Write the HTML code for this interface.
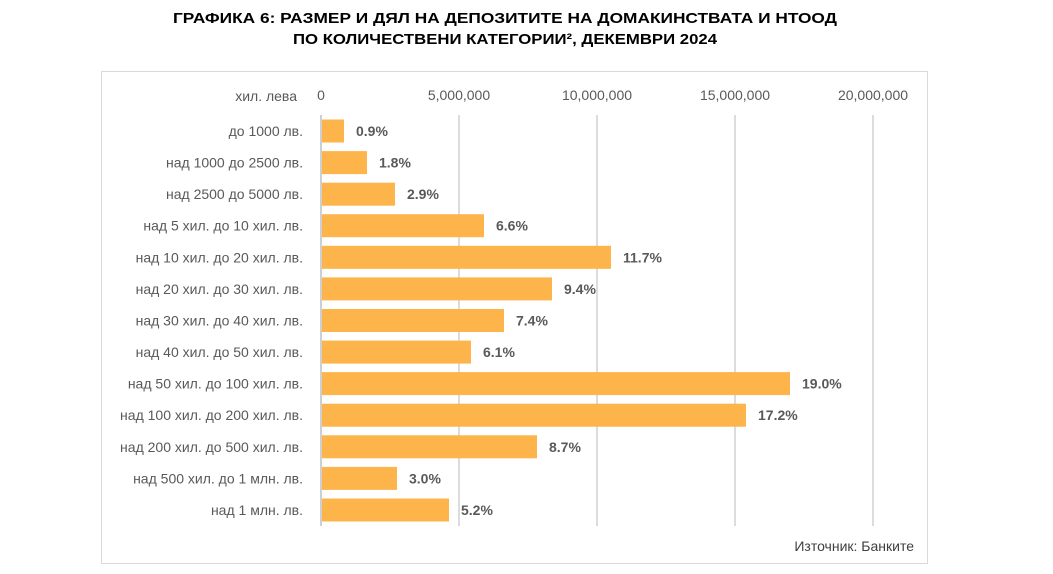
<!DOCTYPE html>
<html><head><meta charset="utf-8"><style>
html,body{margin:0;padding:0;background:#fff;}
svg{display:block;}
</style></head><body>
<svg width="1053" height="574" xmlns="http://www.w3.org/2000/svg" font-family="Liberation Sans, Arial, sans-serif">
<text x="505" y="23" text-anchor="middle" font-size="15" font-weight="bold" fill="#000" textLength="664" lengthAdjust="spacingAndGlyphs">ГРАФИКА 6: РАЗМЕР И ДЯЛ НА ДЕПОЗИТИТЕ НА ДОМАКИНСТВАТА И НТООД</text>
<text x="505" y="44" text-anchor="middle" font-size="15" font-weight="bold" fill="#000" textLength="424" lengthAdjust="spacingAndGlyphs">ПО КОЛИЧЕСТВЕНИ КАТЕГОРИИ², ДЕКЕМВРИ 2024</text>
<rect x="101.5" y="71.5" width="826" height="492" fill="#fff" stroke="#d9d9d9" stroke-width="1"/>
<g stroke="#d0d0d0" stroke-width="1.5">
<line x1="459" y1="115" x2="459" y2="526"/><line x1="597" y1="115" x2="597" y2="526"/>
<line x1="735" y1="115" x2="735" y2="526"/><line x1="873" y1="115" x2="873" y2="526"/>
</g>
<line x1="321" y1="115" x2="321" y2="526" stroke="#bfbfbf" stroke-width="1.5"/>
<g font-size="14" fill="#595959">
<text x="297" y="101" text-anchor="end">хил. лева</text>
<text x="321" y="100" text-anchor="middle">0</text>
<text x="459" y="100" text-anchor="middle">5,000,000</text>
<text x="597" y="100" text-anchor="middle">10,000,000</text>
<text x="735" y="100" text-anchor="middle">15,000,000</text>
<text x="873" y="100" text-anchor="middle">20,000,000</text>
</g>
<g fill="#fdb44b">
<rect x="322" y="119.5" width="22" height="23"/>
<rect x="322" y="151.1" width="45" height="23"/>
<rect x="322" y="182.7" width="73" height="23"/>
<rect x="322" y="214.2" width="162" height="23"/>
<rect x="322" y="245.8" width="289" height="23"/>
<rect x="322" y="277.4" width="230" height="23"/>
<rect x="322" y="309" width="182" height="23"/>
<rect x="322" y="340.6" width="149" height="23"/>
<rect x="322" y="372.1" width="468" height="23"/>
<rect x="322" y="403.7" width="424" height="23"/>
<rect x="322" y="435.3" width="215" height="23"/>
<rect x="322" y="466.9" width="75" height="23"/>
<rect x="322" y="498.5" width="127" height="23"/>
</g>
<g font-size="14" fill="#595959" text-anchor="end">
<text x="303" y="136">до 1000 лв.</text>
<text x="303" y="167.6">над 1000 до 2500 лв.</text>
<text x="303" y="199.2">над 2500 до 5000 лв.</text>
<text x="303" y="230.7">над 5 хил. до 10 хил. лв.</text>
<text x="303" y="262.3">над 10 хил. до 20 хил. лв.</text>
<text x="303" y="293.9">над 20 хил. до 30 хил. лв.</text>
<text x="303" y="325.5">над 30 хил. до 40 хил. лв.</text>
<text x="303" y="357.1">над 40 хил. до 50 хил. лв.</text>
<text x="303" y="388.6">над 50 хил. до 100 хил. лв.</text>
<text x="303" y="420.2">над 100 хил. до 200 хил. лв.</text>
<text x="303" y="451.8">над 200 хил. до 500 хил. лв.</text>
<text x="303" y="483.4">над 500 хил. до 1 млн. лв.</text>
<text x="303" y="515">над 1 млн. лв.</text>
</g>
<g font-size="14" font-weight="bold" fill="#595959">
<text x="356" y="136">0.9%</text>
<text x="379" y="167.6">1.8%</text>
<text x="407" y="199.2">2.9%</text>
<text x="496" y="230.7">6.6%</text>
<text x="623" y="262.3">11.7%</text>
<text x="564" y="293.9">9.4%</text>
<text x="516" y="325.5">7.4%</text>
<text x="483" y="357.1">6.1%</text>
<text x="802" y="388.6">19.0%</text>
<text x="758" y="420.2">17.2%</text>
<text x="549" y="451.8">8.7%</text>
<text x="409" y="483.4">3.0%</text>
<text x="461" y="515">5.2%</text>
</g>
<text x="914" y="551" text-anchor="end" font-size="14" fill="#404040">Източник: Банките</text>
</svg>
</body></html>
